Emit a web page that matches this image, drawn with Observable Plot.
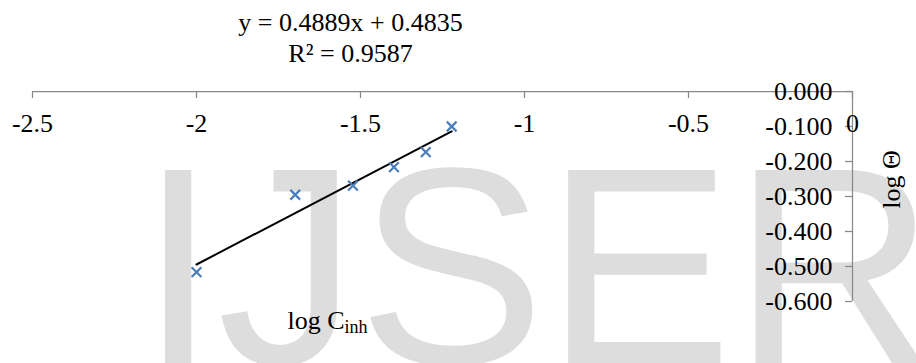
<!DOCTYPE html>
<html><head><meta charset="utf-8">
<script src="https://cdn.jsdelivr.net/npm/d3@7"></script>
<script src="https://cdn.jsdelivr.net/npm/@observablehq/plot@0.6"></script>
<style>html,body{margin:0;padding:0;background:#fff;} #chart svg{display:block;}</style>
</head><body><div id="chart"></div>
<script>
const logC = [-2.000, -1.699, -1.523, -1.398, -1.301, -1.222];
const logTheta = [-0.516, -0.295, -0.269, -0.216, -0.173, -0.100];
const slope = 0.4889;
const intercept = 0.4835;
const eqLines = ["y = 0.4889x + 0.4835", "R² = 0.9587"];
const xTicks = [-2.5, -2, -1.5, -1, -0.5, 0];
const xTickLabels = ["-2.5", "-2", "-1.5", "-1", "-0.5", "0"];
const yTicks = [0, -0.1, -0.2, -0.3, -0.4, -0.5, -0.6];
const yTickLabels = ["0.000", "-0.100", "-0.200", "-0.300", "-0.400", "-0.500", "-0.600"];
const xTitle = ["log C", "inh"];
const yTitle = "log Θ";
const watermark = "IJSER";

const points = logC.map((x, i) => ({x, y: logTheta[i]}));
const trend = d3.extent(logC).map(x => ({x, y: slope * x + intercept}));
const serif = "'Liberation Serif', 'Times New Roman', serif";
const axisColor = "#888888";
const fs = 26;

const chart = Plot.plot({
  width: 916,
  height: 363,
  marginLeft: 32,
  marginRight: 64,
  marginTop: 91,
  marginBottom: 62,
  style: {background: "transparent", fontFamily: serif},
  x: {domain: [-2.5, 0], axis: null},
  y: {domain: [-0.6, 0], axis: null},
  marks: [
    Plot.text([watermark], {frameAnchor: "top-left", dx: 106.6, dy: 182, text: d => d, textAnchor: "start", lineAnchor: "middle",
      fontSize: 281, fill: "#dddddd", fontFamily: "'Liberation Sans', Arial, sans-serif"}),
    Plot.ruleY([0], {stroke: axisColor, strokeWidth: 1.25}),
    Plot.ruleX([0], {stroke: axisColor, strokeWidth: 1.25}),
    Plot.ruleX(xTicks, {x: d => d, y1: 0, y2: 0, insetTop: 0, insetBottom: -7, stroke: axisColor, strokeWidth: 1.25}),
    Plot.ruleY(yTicks, {y: d => d, x1: 0, x2: 0, insetLeft: -7, insetRight: 0, stroke: axisColor, strokeWidth: 1.25}),
    Plot.text(xTicks, {x: d => d, y: 0, text: (d, i) => xTickLabels[i], dy: 32.5, fontSize: fs, fill: "#000"}),
    Plot.text(yTicks, {x: 0, y: d => d, text: (d, i) => yTickLabels[i], dx: -20, textAnchor: "end", fontSize: fs, fill: "#000"}),
    Plot.line(trend, {x: "x", y: "y", stroke: "#000", strokeWidth: 2}),
    Plot.dot(points, {x: "x", y: "y", symbol: "times", r: 4.5, stroke: "#4a7ebb", strokeWidth: 2.2}),
    Plot.text([eqLines[0]], {frameAnchor: "top-left", dx: 318, dy: -69.3, text: d => d, textAnchor: "middle", lineAnchor: "middle", fontSize: fs, fill: "#000"}),
    Plot.text([eqLines[1]], {frameAnchor: "top-left", dx: 318, dy: -37.6, text: d => d, textAnchor: "middle", lineAnchor: "middle", fontSize: fs, fill: "#000"}),
    Plot.text([xTitle[0]], {frameAnchor: "top-left", dx: 255, dy: 228.7, text: d => d, textAnchor: "start", lineAnchor: "middle", fontSize: fs, fill: "#000"}),
    Plot.text([xTitle[1]], {frameAnchor: "top-left", dx: 312, dy: 236.2, text: d => d, textAnchor: "start", lineAnchor: "middle", fontSize: 18, fill: "#000"}),
    Plot.text([yTitle], {frameAnchor: "top-right", dx: 38.7, dy: 88, text: d => d, rotate: -90, textAnchor: "middle", lineAnchor: "middle", fontSize: fs, fill: "#000"})
  ]
});
document.getElementById("chart").appendChild(chart);
</script>
</body></html>
